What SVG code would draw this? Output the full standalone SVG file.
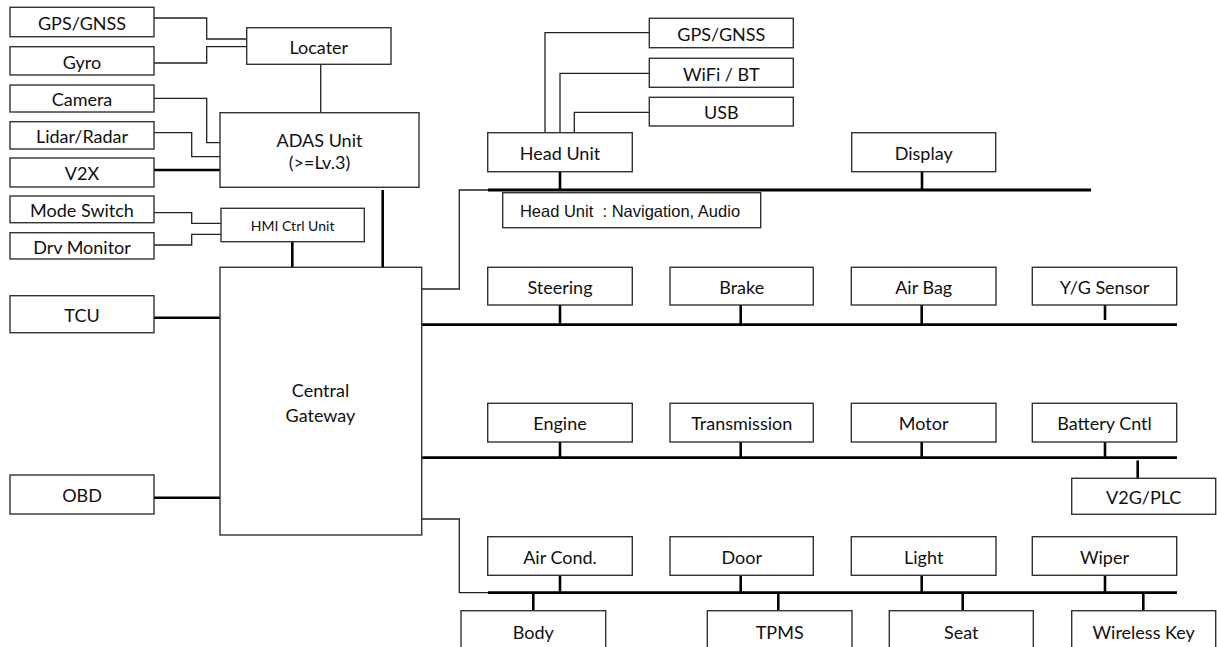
<svg xmlns="http://www.w3.org/2000/svg" width="1217" height="647" viewBox="0 0 1217 647">
<style>
  .box rect { fill: #fff; stroke: #333; stroke-width: 1.4; }
  .box text { font-family: Lato, "Open Sans", sans-serif; font-size: 18px; fill: #111; text-anchor: middle; dominant-baseline: central; }
  .thin { fill: none; stroke: #222; stroke-width: 1.3; }
  .thick { fill: none; stroke: #000; stroke-width: 2.6; }
  .bus { fill: none; stroke: #000; stroke-width: 2.8; }
</style>
<rect width="1217" height="647" fill="#fff"/>

<g id="connectors">
  <!-- locater inputs -->
  <path class="thin" d="M154,18 H206.7 V39 H247"/>
  <path class="thin" d="M154,63 H206.7 V46.7 H247"/>
  <path class="thin" d="M320.7,64 V113"/>
  <!-- ADAS inputs -->
  <path class="thin" d="M154,98.3 H206.7 V142.7 H220"/>
  <path class="thin" d="M154,132.7 H191.7 V156.7 H220"/>
  <path class="thick" d="M154,170 H220"/>
  <!-- HMI inputs -->
  <path class="thin" d="M154,212.7 H191.7 V223.3 H221"/>
  <path class="thin" d="M154,245 H191.7 V234.3 H221"/>
  <!-- to gateway -->
  <path class="thick" d="M292.3,241.7 V268"/>
  <path class="thick" d="M382.7,190 V268"/>
  <path class="thick" d="M154,317.7 H220"/>
  <path class="thick" d="M154,497.7 H220"/>
  <!-- infotainment bus -->
  <path class="thin" d="M421.7,289 H459.3 V190 H488"/>
  <path class="bus" d="M488,190 H1091"/>
  <path class="thin" d="M545,132.7 V32.7 H649.3"/>
  <path class="thin" d="M560,132.7 V73.3 H649.3"/>
  <path class="thin" d="M574.3,132.7 V112.3 H649.3"/>
  <path class="thick" d="M560,171.7 V190"/>
  <path class="thick" d="M922,171.7 V190"/>
  <!-- chassis bus -->
  <path class="bus" d="M421.7,324.7 H1177"/>
  <path class="thick" d="M560,305 V324.7"/>
  <path class="thick" d="M740.7,305 V324.7"/>
  <path class="thick" d="M921.7,305 V324.7"/>
  <path class="thick" d="M1105,305 V320"/>
  <!-- powertrain bus -->
  <path class="bus" d="M421.7,457.7 H1177"/>
  <path class="thick" d="M560,442 V457.7"/>
  <path class="thick" d="M740.7,442 V457.7"/>
  <path class="thick" d="M921.7,442 V457.7"/>
  <path class="thick" d="M1105,442 V457.7"/>
  <path class="thick" d="M1137.7,460.5 V478.3"/>
  <!-- body bus -->
  <path class="thin" d="M421.7,519 H459.3 V592.7 H488"/>
  <path class="bus" d="M488,592.7 H1177"/>
  <path class="thick" d="M560,575.3 V592.7"/>
  <path class="thick" d="M740.7,575.3 V592.7"/>
  <path class="thick" d="M921.7,575.3 V592.7"/>
  <path class="thick" d="M1105,575.3 V592.7"/>
  <path class="thick" d="M533.3,592.7 V610.7"/>
  <path class="thick" d="M778.3,592.7 V610.7"/>
  <path class="thick" d="M962.7,592.7 V610.7"/>
  <path class="thick" d="M1143.3,592.7 V610.7"/>
</g>

<!-- left column -->
<g id="gps-left" class="box"><rect x="10" y="7.3" width="144" height="29.4"/><text x="82" y="23">GPS/GNSS</text></g>
<g id="gyro" class="box"><rect x="10" y="46.7" width="144" height="28.3"/><text x="82" y="62">Gyro</text></g>
<g id="camera" class="box"><rect x="10" y="85" width="144" height="27"/><text x="82" y="99">Camera</text></g>
<g id="lidar-radar" class="box"><rect x="10" y="121.7" width="144" height="27.3"/><text x="82" y="136">Lidar/Radar</text></g>
<g id="v2x" class="box"><rect x="10" y="158" width="144" height="29"/><text x="82" y="173">V2X</text></g>
<g id="mode-switch" class="box"><rect x="10" y="196" width="144" height="26.7"/><text x="82" y="210">Mode Switch</text></g>
<g id="drv-monitor" class="box"><rect x="10" y="232.7" width="144" height="26.3"/><text x="82" y="246.5">Drv Monitor</text></g>
<g id="tcu" class="box"><rect x="10" y="295.7" width="144" height="37"/><text x="82" y="314.5">TCU</text></g>
<g id="obd" class="box"><rect x="10" y="475" width="144" height="39"/><text x="82" y="495">OBD</text></g>

<!-- central column -->
<g id="locater" class="box"><rect x="246.7" y="27.7" width="144.3" height="36.6"/><text x="318.8" y="47">Locater</text></g>
<g id="adas" class="box"><rect x="220" y="112.7" width="199" height="74.6"/><text x="319.5" y="140">ADAS Unit</text><text x="319.5" y="162">(&gt;=Lv.3)</text></g>
<g id="hmi" class="box"><rect x="221" y="208.3" width="143.3" height="33.4"/><text x="292.6" y="225" style="font-size:14px">HMI Ctrl Unit</text></g>
<g id="gateway" class="box"><rect x="220" y="267.3" width="201.7" height="267.7"/><text x="320.5" y="390">Central</text><text x="320.5" y="415">Gateway</text></g>

<!-- infotainment -->
<g id="head-unit" class="box"><rect x="487.7" y="132.7" width="144.6" height="39"/><text x="560" y="153">Head Unit</text></g>
<g id="gps-right" class="box"><rect x="649.3" y="18.3" width="144" height="29.4"/><text x="721.3" y="34">GPS/GNSS</text></g>
<g id="wifi-bt" class="box"><rect x="649.3" y="58.3" width="144" height="29"/><text x="721.3" y="73.5">WiFi / BT</text></g>
<g id="usb" class="box"><rect x="649.3" y="97.3" width="144" height="28.7"/><text x="721.3" y="112">USB</text></g>
<g id="display" class="box"><rect x="851.7" y="132.7" width="144" height="39"/><text x="923.7" y="153">Display</text></g>
<g id="head-note" class="box"><rect x="502.7" y="192.7" width="258" height="35"/><text x="630" y="210.5" style="font-family:'Liberation Sans',Arial,sans-serif;font-size:16.5px" xml:space="preserve">Head Unit  : Navigation, Audio</text></g>

<!-- chassis -->
<g id="steering" class="box"><rect x="487.7" y="267.3" width="144.6" height="37.7"/><text x="560" y="287">Steering</text></g>
<g id="brake" class="box"><rect x="670" y="267.3" width="143.3" height="37.7"/><text x="741.7" y="287">Brake</text></g>
<g id="air-bag" class="box"><rect x="851.3" y="267.3" width="144.7" height="37.7"/><text x="923.7" y="287">Air Bag</text></g>
<g id="yg-sensor" class="box"><rect x="1032.3" y="267.3" width="144.4" height="37.7"/><text x="1104.5" y="287">Y/G Sensor</text></g>

<!-- powertrain -->
<g id="engine" class="box"><rect x="487.7" y="403.3" width="144.6" height="38.7"/><text x="560" y="423">Engine</text></g>
<g id="transmission" class="box"><rect x="670" y="403.3" width="143.3" height="38.7"/><text x="741.7" y="423">Transmission</text></g>
<g id="motor" class="box"><rect x="851.3" y="403.3" width="144.7" height="38.7"/><text x="923.7" y="423">Motor</text></g>
<g id="battery" class="box"><rect x="1032.3" y="403.3" width="144.4" height="38.7"/><text x="1104.5" y="423">Battery Cntl</text></g>
<g id="v2g-plc" class="box"><rect x="1071.7" y="478.3" width="144" height="36"/><text x="1143.7" y="497">V2G/PLC</text></g>

<!-- body -->
<g id="air-cond" class="box"><rect x="487.7" y="536.7" width="144.6" height="38.6"/><text x="560" y="557">Air Cond.</text></g>
<g id="door" class="box"><rect x="670" y="536.7" width="143.3" height="38.6"/><text x="741.7" y="557">Door</text></g>
<g id="light" class="box"><rect x="851.3" y="536.7" width="144.7" height="38.6"/><text x="923.7" y="557">Light</text></g>
<g id="wiper" class="box"><rect x="1032.3" y="536.7" width="144.4" height="38.6"/><text x="1104.5" y="557">Wiper</text></g>
<g id="body" class="box"><rect x="461" y="610.7" width="144.7" height="40"/><text x="533.3" y="632">Body</text></g>
<g id="tpms" class="box"><rect x="707.3" y="610.7" width="144.7" height="40"/><text x="779.7" y="632">TPMS</text></g>
<g id="seat" class="box"><rect x="889.3" y="610.7" width="144" height="40"/><text x="961.3" y="632">Seat</text></g>
<g id="wireless-key" class="box"><rect x="1071.7" y="610.7" width="144" height="40"/><text x="1143.7" y="632">Wireless Key</text></g>
</svg>
